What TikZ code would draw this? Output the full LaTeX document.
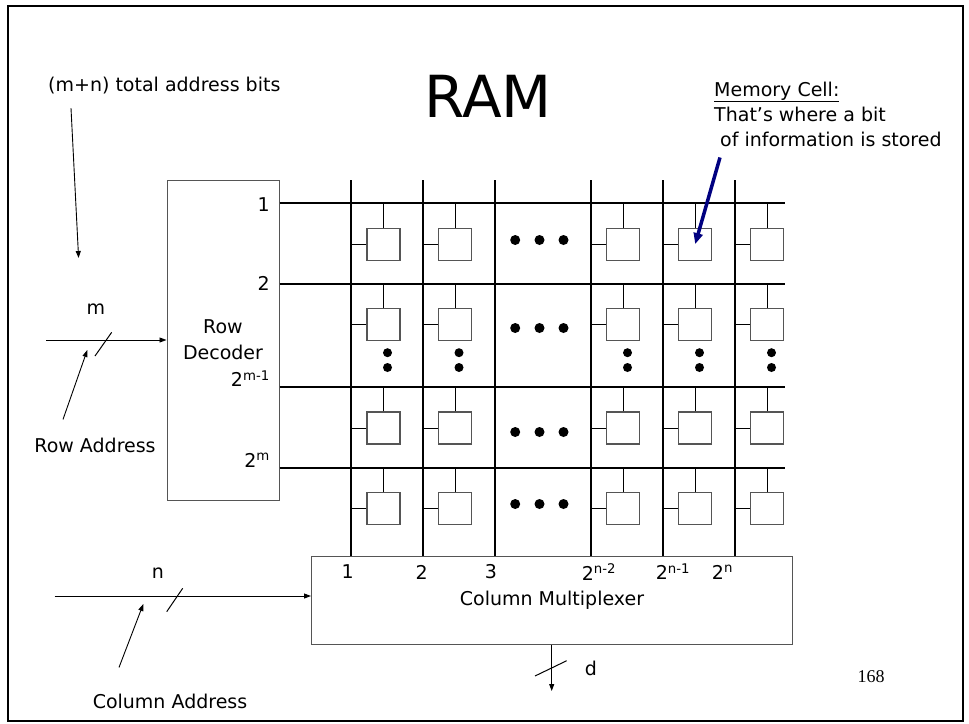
\documentclass[tikz,border=0pt]{standalone}
\usepackage{fontspec}
\setmainfont{DejaVu Sans}
\newfontfamily\slidenofont{Liberation Serif}
\usepackage{tikz}
\usetikzlibrary{arrows.meta,positioning}
\definecolor{pointer}{HTML}{000080}
\definecolor{cellgrey}{HTML}{555555}
\tikzset{
  wire/.style={line width=2pt},
  stub/.style={line width=1pt},
  cellbox/.style={draw=cellgrey,line width=1.2pt,fill=white,minimum width=33pt,minimum height=32pt,inner sep=0pt},
  blockbox/.style={draw=cellgrey,line width=1pt,inner sep=0pt},
  sig/.style={-{Triangle[length=7pt,width=5pt]},line width=0.9pt},
  lbl/.style={font=\fontsize{19}{26}\selectfont,inner sep=0pt}
}

\begin{document}
\begin{tikzpicture}[x=1pt,y=-1pt]
\useasboundingbox (0,0) rectangle (969,723);
\draw[line width=2pt] (8,5.5) rectangle (963,720.5);

\node[lbl,font=\fontsize{58}{60}\selectfont] (title) at (488,96) {RAM};
\node[lbl,anchor=west] (totbits) at (48,86) {(m+n) total address bits};
\node[lbl,anchor=base west] (memhead) at (714,96) {\underline{Memory Cell:}};
\node[lbl,anchor=base west] (memline) at (714,121.5) {That’s where a bit};
\node[lbl,anchor=base west] (memline2) at (720,146) {of information is stored};

\node[blockbox,lbl,align=center,minimum width=112pt,minimum height=320pt] (rowdec) at (223,340) {Row\\Decoder};
\node[blockbox,lbl,minimum width=481pt,minimum height=87.5pt] (colmux) at (552,600.3) {Column Multiplexer};

\foreach \r/\ry/\ly/\l in {1/203.4/205/1,2/283.5/283/2,3/387.3/379/2\textsuperscript{m-1},4/468/460/2\textsuperscript{m}}{
  \draw[wire] (rowdec.east |- 0,\ry) -- (784.5,\ry) coordinate (word-\r);
  \node[lbl,anchor=east] (rowno-\r) at (270,\ly) {\l};
}
\foreach \c/\cx in {1/351,2/422.7,3/494.7,4/590.7,5/662.7,6/734.7}
  \draw[wire] (\cx,180) -- (colmux.north -| \cx,0);

\foreach \r/\ry in {1/203.4,2/283.5,3/387.3,4/468}
  \foreach \c/\cx in {1/351,2/422.7,4/590.7,5/662.7,6/734.7}{
    \node[cellbox] (cell-\r-\c) at (\cx+32.5,\ry+40.7) {};
    \draw[stub] (cell-\r-\c.north) -- (cell-\r-\c.north |- 0,\ry);
    \draw[stub] (cell-\r-\c.west) -- (cell-\r-\c.west -| \cx,0);
  }

\foreach \dy in {240,328,432,504}
  \foreach \dx in {515.2,539.5,563.5}
    \fill (\dx,\dy) circle (5pt);
\foreach \dx in {387.5,459,627.5,699.5,771.5}
  \foreach \dy in {352.7,367.5}
    \fill (\dx,\dy) circle (4.5pt);

\foreach \k/\x/\l in {1/347.7/1,2/421.7/2,3/491/3,4/599/2\textsuperscript{n-2},5/673/2\textsuperscript{n-1},6/722.5/2\textsuperscript{n}}
  \node[lbl] (colno-\k) at (\x,572) {\l};

\coordinate (totbits-tip) at (78.6,258);
\draw[sig] ([shift={(23,13.5)}]totbits.south west) -- (totbits-tip);

\coordinate (m-in) at (46.4,340);
\draw[sig] (m-in) -- (rowdec.west);
\draw[stub] (111.7,332.3) -- (95,356);
\node[lbl] (m-lab) at (96,309) {m};
\node[lbl] (rowaddr) at (95,445) {Row Address};
\coordinate (rowaddr-tip) at (87.3,350);
\draw[sig] ([shift={(-32,-18)}]rowaddr.north) -- (rowaddr-tip);

\coordinate (n-in) at (54.5,596);
\draw[sig] (n-in) -- (colmux.west |- n-in);
\draw[stub] (182.7,588.3) -- (166.7,611.7);
\node[lbl] (n-lab) at (158,573) {n};
\node[lbl] (coladdr) at (170,701) {Column Address};
\coordinate (coladdr-tip) at (143.3,604);
\draw[sig] ([shift={(-51,-26)}]coladdr.north) -- (coladdr-tip);

\coordinate (d-out) at (551.7,691);
\draw[sig] (colmux.south -| d-out) -- (d-out);
\draw[stub] (535,676) -- (566.7,660.7);
\node[lbl] (d-lab) at (591,668) {d};

\draw[-{Triangle[length=11pt,width=9pt]},line width=3.5pt,pointer] ([shift={(0,11)}]memline2.south west) -- (cell-1-5.center);

\node[font=\slidenofont\fontsize{18}{20}\selectfont] (pageno) at (871,677) {168};
\end{tikzpicture}
\end{document}
